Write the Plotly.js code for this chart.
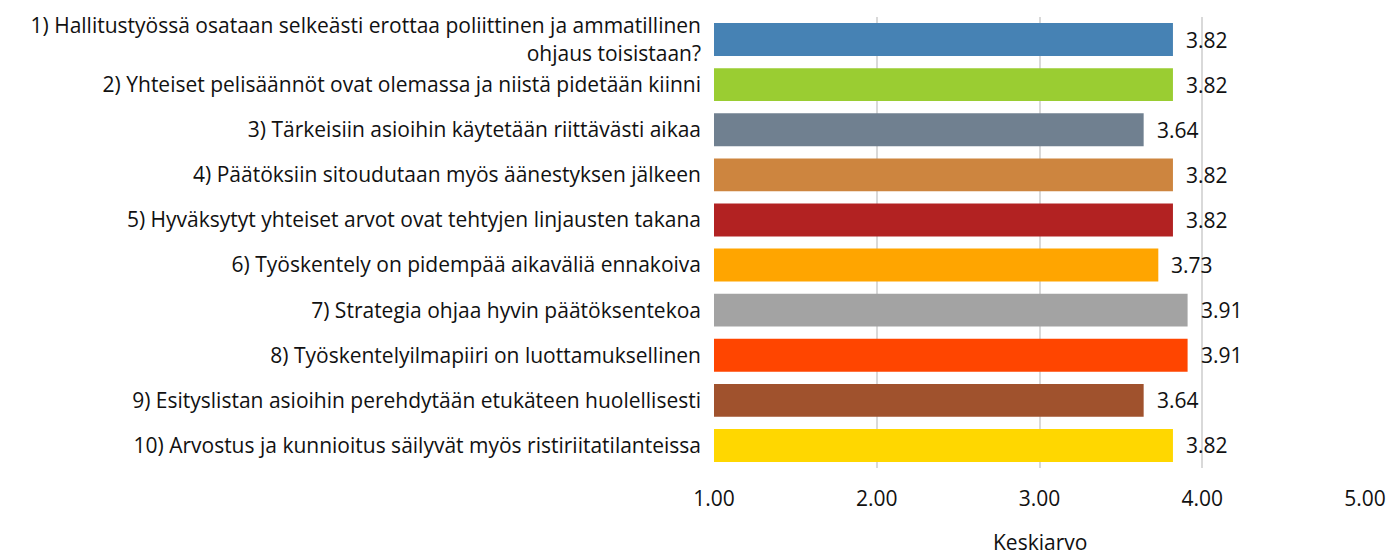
<!DOCTYPE html>
<html>
<head>
<meta charset="utf-8">
<script src="https://cdn.plot.ly/plotly-3.0.1.min.js"></script>
<style>html,body{margin:0;padding:0;background:#fff}#chart{width:1391px;height:556px}</style>
</head>
<body>
<div id="chart"></div>
<script>
const categories = [
  "1) Hallitustyössä osataan selkeästi erottaa poliittinen ja ammatillinen<br>ohjaus toisistaan?",
  "2) Yhteiset pelisäännöt ovat olemassa ja niistä pidetään kiinni",
  "3) Tärkeisiin asioihin käytetään riittävästi aikaa",
  "4) Päätöksiin sitoudutaan myös äänestyksen jälkeen",
  "5) Hyväksytyt yhteiset arvot ovat tehtyjen linjausten takana",
  "6) Työskentely on pidempää aikaväliä ennakoiva",
  "7) Strategia ohjaa hyvin päätöksentekoa",
  "8) Työskentelyilmapiiri on luottamuksellinen",
  "9) Esityslistan asioihin perehdytään etukäteen huolellisesti",
  "10) Arvostus ja kunnioitus säilyvät myös ristiriitatilanteissa"
];
const values = [3.82, 3.82, 3.64, 3.82, 3.82, 3.73, 3.91, 3.91, 3.64, 3.82];
const colors = ["#4682B4", "#9ACD32", "#708090", "#CD853F", "#B22222",
                "#FFA500", "#A3A3A3", "#FF4500", "#A0522D", "#FFD700"];
const tickVals = [1, 2, 3, 4, 5];
const tickText = ["1.00", "2.00", "3.00", "4.00", "5.00"];
const axisTitle = "Keskiarvo";

const FONT = '"Open Sans", Calibri, Carlito, Lato, sans-serif';
const FS = 21;

const trace = {
  type: 'bar',
  orientation: 'h',
  x: values.map(v => v - 1),
  y: categories,
  base: 1,
  marker: {color: colors},
  hoverinfo: 'x+y'
};

const annotations = values.map((v, i) => ({
  x: v, y: categories[i], xref: 'x', yref: 'y',
  text: v.toFixed(2), showarrow: false, xanchor: 'left', xshift: 11,
  font: {family: FONT, size: FS, color: '#111'}
}));
// axis title placed as annotation so it can sit lower than margin constraints allow
annotations.push({
  x: 0.5, y: 0, xref: 'paper', yref: 'paper',
  text: axisTitle, showarrow: false, xanchor: 'center', yanchor: 'middle', yshift: -74,
  font: {family: FONT, size: FS, color: '#111'}
});

const layout = {
  width: 1391, height: 556,
  margin: {l: 714, r: 26, t: 17, b: 88},
  paper_bgcolor: '#fff', plot_bgcolor: '#fff',
  showlegend: false,
  bargap: 0.27,
  font: {family: FONT, size: FS, color: '#111'},
  xaxis: {
    range: [1, 5],
    tickvals: tickVals, ticktext: tickText,
    showgrid: true, gridcolor: '#d9d9d9', gridwidth: 2,
    zeroline: false, showline: false,
    ticks: '', ticklabelstandoff: 16,
    tickfont: {family: FONT, size: FS, color: '#111'}
  },
  yaxis: {
    autorange: 'reversed',
    showgrid: false, zeroline: false, showline: false,
    ticks: '', ticklabelstandoff: 12,
    tickfont: {family: FONT, size: FS, color: '#111'}
  },
  annotations: annotations
};

Plotly.newPlot('chart', [trace], layout, {displayModeBar: false, staticPlot: true});
</script>
</body>
</html>
